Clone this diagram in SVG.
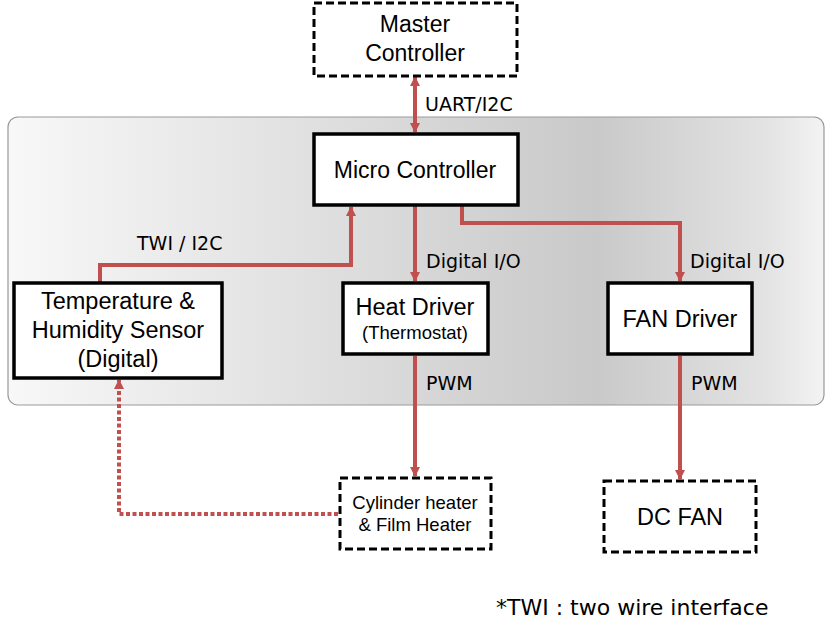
<svg xmlns="http://www.w3.org/2000/svg" width="831" height="627" viewBox="0 0 831 627">
<defs>
<linearGradient id="bg" x1="0" y1="0" x2="1" y2="0">
<stop offset="0" stop-color="#f8f8f8"/>
<stop offset="0.4" stop-color="#dedede"/>
<stop offset="0.72" stop-color="#c9c9c9"/>
<stop offset="0.93" stop-color="#e3e3e3"/>
<stop offset="1" stop-color="#f3f3f3"/>
</linearGradient>
<marker id="ah" viewBox="0 0 10 10" refX="9" refY="5" markerWidth="10" markerHeight="10" markerUnits="userSpaceOnUse" orient="auto-start-reverse">
<path d="M0,0 L10,5 L0,10 z" fill="#c0504d"/>
</marker>
</defs>
<style>
.box{fill:#fff;stroke:#000;stroke-width:3.5}
.dbox{fill:#fff;stroke:#000;stroke-width:3;stroke-dasharray:8 4}
.t{font-family:"Liberation Sans",Arial,sans-serif;fill:#000;text-anchor:middle}
.lbl{font-family:"DejaVu Sans","Liberation Sans",sans-serif;font-size:19px;fill:#000}
.c{fill:none;stroke:#c0504d;stroke-width:4}
.dot{fill:none;stroke:#c0504d;stroke-width:4;stroke-dasharray:4 2.5}
</style>
<rect x="8" y="117" width="816" height="288" rx="10" fill="url(#bg)" stroke="#999" stroke-width="1.2"/>
<g id="connectors">
<path class="c" d="M415,77 V132" marker-start="url(#ah)" marker-end="url(#ah)"/>
<path class="c" d="M100,282 V265 H351 V207" marker-end="url(#ah)"/>
<path class="c" d="M415,206 V281" marker-end="url(#ah)"/>
<path class="c" d="M462,206 V223 H680 V281" marker-end="url(#ah)"/>
<path class="c" d="M415,356 V476" marker-end="url(#ah)"/>
<path class="c" d="M680,356 V479" marker-end="url(#ah)"/>
<path class="dot" d="M338,514 H119 V380" marker-end="url(#ah)"/>
<text class="lbl" x="425" y="111">UART/I2C</text>
<text class="lbl" x="137" y="250">TWI / I2C</text>
<text class="lbl" x="426" y="268">Digital I/O</text>
<text class="lbl" x="690" y="268">Digital I/O</text>
<text class="lbl" x="426" y="390">PWM</text>
<text class="lbl" x="691" y="390">PWM</text>
</g>
<g id="master">
<rect class="dbox" x="314" y="3" width="203" height="73"/>
<text class="t" x="415" y="32" font-size="23">Master</text>
<text class="t" x="415" y="61" font-size="23">Controller</text>
</g>
<g id="micro">
<rect class="box" x="314" y="134" width="204" height="71"/>
<text class="t" x="415" y="178" font-size="23">Micro Controller</text>
</g>
<g id="sensor">
<rect class="box" x="14" y="283" width="208" height="95"/>
<text class="t" x="118" y="309" font-size="23.5">Temperature &amp;</text>
<text class="t" x="118" y="338" font-size="23.5">Humidity Sensor</text>
<text class="t" x="118" y="367" font-size="23.5">(Digital)</text>
</g>
<g id="heat">
<rect class="box" x="343" y="283" width="145" height="71"/>
<text class="t" x="415" y="315" font-size="23.5">Heat Driver</text>
<text class="t" x="415" y="339" font-size="18.5">(Thermostat)</text>
</g>
<g id="fan">
<rect class="box" x="608" y="283" width="144" height="71"/>
<text class="t" x="680" y="327" font-size="23.5">FAN Driver</text>
</g>
<g id="heater">
<rect class="dbox" x="340" y="478" width="151" height="71"/>
<text class="t" x="415" y="509" font-size="18.5">Cylinder heater</text>
<text class="t" x="415" y="531" font-size="18.5">&amp; Film Heater</text>
</g>
<g id="dcfan">
<rect class="dbox" x="604" y="481" width="152" height="71"/>
<text class="t" x="680" y="525" font-size="23.5">DC FAN</text>
</g>
<text x="496" y="615" font-family="DejaVu Sans,Liberation Sans,sans-serif" font-size="22" fill="#000">*TWI : two wire interface</text>
</svg>
